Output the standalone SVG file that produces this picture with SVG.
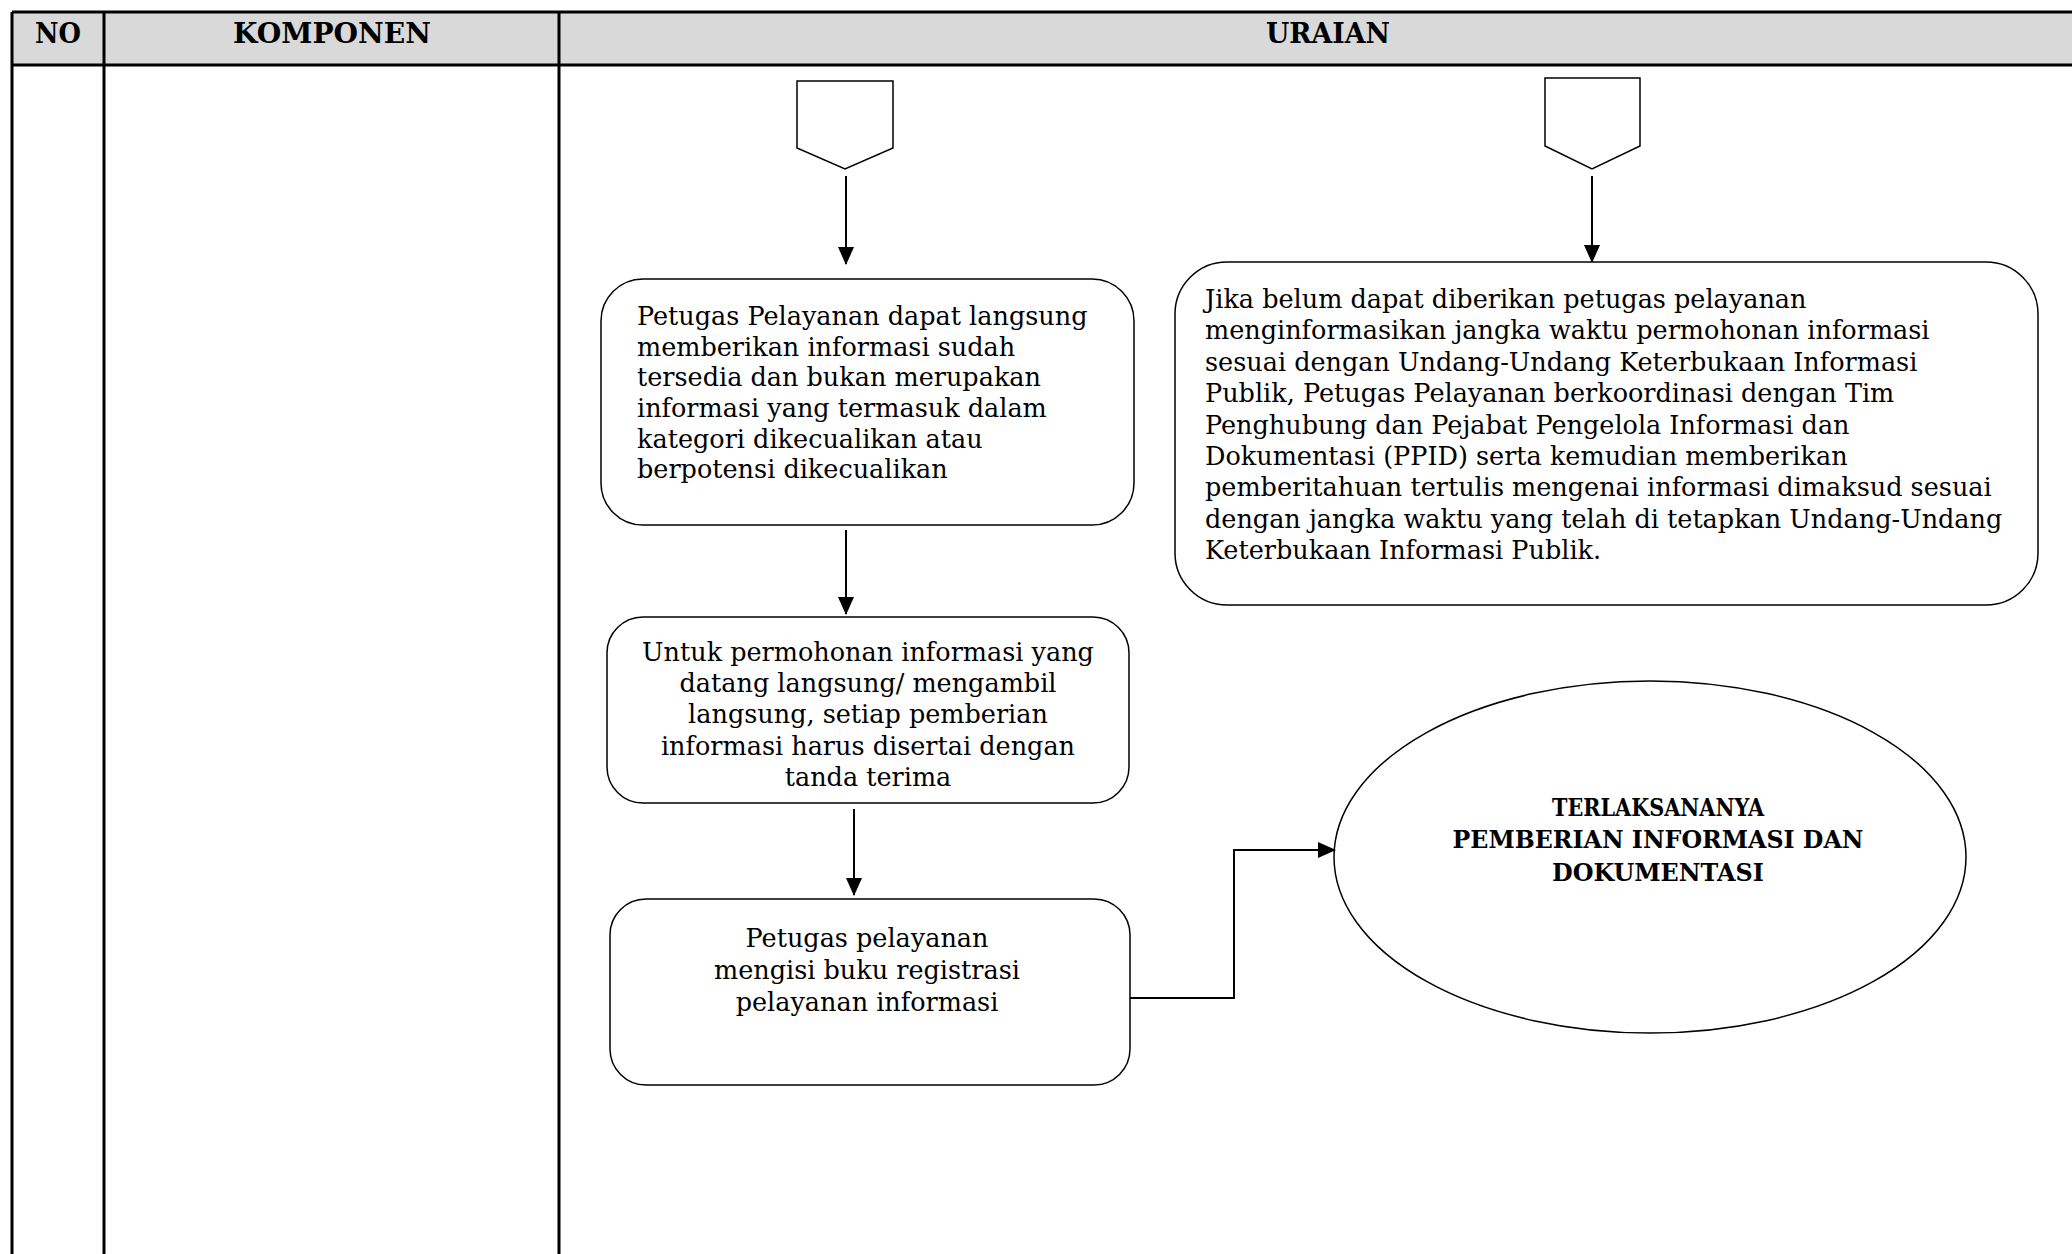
<svg xmlns="http://www.w3.org/2000/svg" width="2072" height="1254" viewBox="0 0 2072 1254">
<style>
.tbl{stroke:#000;stroke-width:3;fill:none}
.hdr{font-family:"DejaVu Serif",serif;font-weight:bold;font-size:28px;fill:#000}
.box{fill:#fff;stroke:#000;stroke-width:1.5}
.txt{font-family:"DejaVu Serif",serif;font-size:25.5px;fill:#000}
.btxt{font-family:"DejaVu Serif",serif;font-weight:bold;font-size:24px;fill:#000}
.conn{stroke:#000;stroke-width:2;fill:none}
</style>
<defs>
<marker id="arr" markerUnits="userSpaceOnUse" markerWidth="18" markerHeight="16" refX="17" refY="8" orient="auto" viewBox="0 0 18 16">
<path d="M0,0 L18,8 L0,16 Z" fill="#000"/>
</marker>
</defs>
<rect x="0" y="0" width="2072" height="1254" fill="#fff"/>
<g id="table">
<rect x="12" y="12" width="2070" height="53" fill="#d9d9d9"/>
<line class="tbl" x1="12" y1="12" x2="2072" y2="12"/>
<line class="tbl" x1="12" y1="65" x2="2072" y2="65"/>
<line class="tbl" x1="12" y1="12" x2="12" y2="1254"/>
<line class="tbl" x1="104" y1="12" x2="104" y2="1254"/>
<line class="tbl" x1="559" y1="12" x2="559" y2="1254"/>
<text class="hdr" x="58" y="43" text-anchor="middle" textLength="46" lengthAdjust="spacingAndGlyphs">NO</text>
<text class="hdr" x="332" y="43" text-anchor="middle" textLength="198" lengthAdjust="spacingAndGlyphs">KOMPONEN</text>
<text class="hdr" x="1328" y="43" text-anchor="middle" textLength="124" lengthAdjust="spacingAndGlyphs">URAIAN</text>
</g>
<g id="offpage1">
<polygon class="box" points="797,81 893,81 893,148 845,169 797,148"/>
</g>
<g id="offpage2">
<polygon class="box" points="1545,78 1640,78 1640,146 1592,169 1545,146"/>
</g>
<g id="box1">
<rect class="box" x="601" y="279" width="533" height="246" rx="42"/>
<text class="txt" x="637" y="325">Petugas Pelayanan dapat langsung</text>
<text class="txt" x="637" y="356">memberikan informasi sudah</text>
<text class="txt" x="637" y="386">tersedia dan bukan merupakan</text>
<text class="txt" x="637" y="417">informasi yang termasuk dalam</text>
<text class="txt" x="637" y="448">kategori dikecualikan atau</text>
<text class="txt" x="637" y="478">berpotensi dikecualikan</text>
</g>
<g id="box2">
<rect class="box" x="607" y="617" width="522" height="186" rx="36"/>
<text class="txt" x="868" y="661" text-anchor="middle">Untuk permohonan informasi yang</text>
<text class="txt" x="868" y="692" text-anchor="middle">datang langsung/ mengambil</text>
<text class="txt" x="868" y="723" text-anchor="middle">langsung, setiap pemberian</text>
<text class="txt" x="868" y="755" text-anchor="middle">informasi harus disertai dengan</text>
<text class="txt" x="868" y="786" text-anchor="middle">tanda terima</text>
</g>
<g id="box3">
<rect class="box" x="610" y="899" width="520" height="186" rx="36"/>
<text class="txt" x="867" y="947" text-anchor="middle">Petugas pelayanan</text>
<text class="txt" x="867" y="979" text-anchor="middle">mengisi buku registrasi</text>
<text class="txt" x="867" y="1011" text-anchor="middle">pelayanan informasi</text>
</g>
<g id="box4">
<rect class="box" x="1175" y="262" width="863" height="343" rx="52"/>
<text class="txt" x="1205" y="308">Jika belum dapat diberikan petugas pelayanan</text>
<text class="txt" x="1205" y="339">menginformasikan jangka waktu permohonan informasi</text>
<text class="txt" x="1205" y="371">sesuai dengan Undang-Undang Keterbukaan Informasi</text>
<text class="txt" x="1205" y="402">Publik, Petugas Pelayanan berkoordinasi dengan Tim</text>
<text class="txt" x="1205" y="434">Penghubung dan Pejabat Pengelola Informasi dan</text>
<text class="txt" x="1205" y="465">Dokumentasi (PPID) serta kemudian memberikan</text>
<text class="txt" x="1205" y="496">pemberitahuan tertulis mengenai informasi dimaksud sesuai</text>
<text class="txt" x="1205" y="528">dengan jangka waktu yang telah di tetapkan Undang-Undang</text>
<text class="txt" x="1205" y="559">Keterbukaan Informasi Publik.</text>
</g>
<g id="end">
<ellipse class="box" cx="1650" cy="857" rx="316" ry="176"/>
<text class="btxt" x="1658" y="816" text-anchor="middle" textLength="212" lengthAdjust="spacingAndGlyphs">TERLAKSANANYA</text>
<text class="btxt" x="1658" y="848" text-anchor="middle" textLength="411" lengthAdjust="spacingAndGlyphs">PEMBERIAN INFORMASI DAN</text>
<text class="btxt" x="1658" y="881" text-anchor="middle" textLength="212" lengthAdjust="spacingAndGlyphs">DOKUMENTASI</text>
</g>
<g id="connectors">
<line class="conn" x1="846" y1="176" x2="846" y2="264" marker-end="url(#arr)"/>
<line class="conn" x1="1592" y1="176" x2="1592" y2="262" marker-end="url(#arr)"/>
<line class="conn" x1="846" y1="530" x2="846" y2="614" marker-end="url(#arr)"/>
<line class="conn" x1="854" y1="809" x2="854" y2="895" marker-end="url(#arr)"/>
<polyline class="conn" points="1130,998 1234,998 1234,850 1335,850" stroke-width="2.5" marker-end="url(#arr)"/>
</g>
</svg>
